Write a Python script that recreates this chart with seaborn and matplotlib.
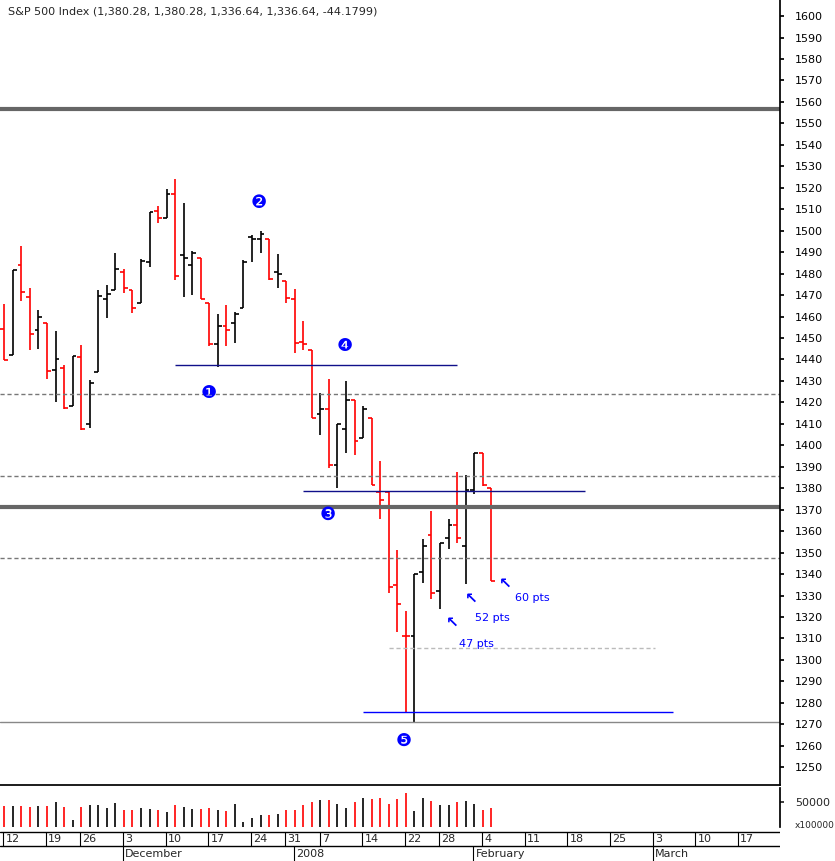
import matplotlib
matplotlib.use("Agg")
import matplotlib.pyplot as plt
import seaborn as sns
import numpy as np

sns.set_theme(style="white")
plt.rcParams["font.family"] = "DejaVu Sans"

opens  = [1454.4,1442.0,1484.2,1468.9,1453.5,1457.2,1435.3,1435.8,1418.4,1441.2,1410.1,1434.1,1468.1,1472.3,1480.8,1472.3,1466.1,1485.5,1509.3,1506.1,1517.3,1488.6,1483.8,1487.2,1466.1,1447.1,1455.4,1457.2,1464.2,1497.1,1496.0,1495.9,1480.8,1476.6,1468.4,1448.2,1444.6,1414.8,1416.7,1391.0,1407.4,1421.0,1403.6,1412.5,1378.4,1378.4,1334.9,1311.2,1311.2,1340.8,1358.2,1332.1,1356.9,1362.8,1353.0,1379.1,1396.5,1380.28]
highs  = [1465.8,1481.9,1492.8,1473.5,1463.0,1457.2,1453.2,1437.3,1441.5,1446.7,1430.3,1472.3,1474.6,1489.5,1482.1,1472.3,1487.0,1508.5,1511.4,1519.2,1524.0,1512.7,1490.5,1487.5,1466.1,1461.1,1465.3,1461.9,1486.3,1498.2,1499.8,1495.9,1489.1,1476.6,1472.6,1457.8,1444.6,1424.6,1431.1,1409.8,1429.9,1421.0,1418.5,1412.5,1392.6,1378.4,1351.2,1322.7,1339.8,1356.3,1369.3,1354.7,1365.6,1387.4,1386.1,1396.5,1396.5,1380.28]
lows   = [1439.7,1442.0,1467.3,1444.3,1444.8,1431.0,1420.2,1417.1,1418.4,1407.0,1408.1,1434.1,1459.4,1472.3,1471.0,1461.7,1466.1,1483.2,1503.7,1506.1,1476.9,1469.2,1469.9,1468.4,1446.2,1436.6,1446.3,1447.7,1464.2,1485.5,1489.4,1477.0,1473.1,1466.1,1443.1,1444.6,1412.5,1405.0,1389.2,1379.9,1396.6,1395.7,1403.6,1381.7,1365.5,1331.4,1313.1,1275.8,1271.2,1335.6,1328.2,1323.5,1351.5,1354.3,1335.2,1377.3,1381.0,1336.64]
closes = [1439.7,1481.9,1471.2,1451.8,1459.7,1434.4,1440.4,1417.5,1441.5,1407.8,1429.1,1469.8,1470.4,1482.1,1473.1,1464.0,1485.9,1508.5,1505.7,1517.0,1478.8,1487.5,1489.4,1468.4,1447.0,1455.8,1453.5,1461.1,1485.3,1496.0,1498.4,1477.3,1479.7,1468.7,1447.7,1447.0,1412.5,1417.0,1391.0,1409.8,1421.3,1401.9,1417.1,1381.7,1374.5,1333.8,1326.0,1311.2,1339.8,1353.0,1331.4,1354.7,1362.8,1356.9,1379.1,1396.5,1381.5,1336.64]
volumes = [43000,43000,43000,40000,43000,43000,51000,41000,15000,40000,45000,45000,38000,48000,35000,35000,39000,37000,35000,30000,45000,40000,36000,36000,39000,35000,33000,47000,11000,19000,25000,25000,27000,35000,35000,45000,50000,55000,55000,46000,39000,50000,58000,57000,58000,47000,57000,69000,33000,59000,53000,45000,45000,50000,53000,47000,35000,39000]

week_ticks = [0,5,9,14,19,24,29,33,37,42,47,51,56,61,66,71,76,81,86,91]
week_labels = ["12","19","26","3","10","17","24","31","7","14","22","28","4","11","18","25","3","10","17","2"]
month_ticks = [14,34,55,76]
month_labels = ["December","2008","February","March"]

W, H = 835, 861
fig = plt.figure(figsize=(W/100, H/100), dpi=100)
xl = (-0.5, 90.8)
ax = fig.add_axes([0, 1-785/H, 780/W, 785/H])
axv = fig.add_axes([0, 1-827/H, 780/W, 39/H])
axd = fig.add_axes([0, 0, 780/W, 30/H])

n = len(opens)
idx = np.arange(n)
cols = []
for i in range(n):
    prev = closes[i-1] if i > 0 else opens[i]
    cols.append("red" if closes[i] < prev else "black")

ax.set_xlim(*xl)
ax.set_ylim(1241.7, 1607.5)
ax.vlines(idx, lows, highs, colors=cols, lw=1.2)
ax.hlines(opens, idx-0.45, idx, colors=cols, lw=1.2)
ax.hlines(closes, idx, idx+0.45, colors=cols, lw=1.2)

ax.axhline(1556.5, color="#666666", lw=3)
ax.axhline(1371.2, color="#666666", lw=3)
for lvl in [1424, 1385.5, 1347.5]:
    ax.axhline(lvl, color="#777777", lw=1, ls=(0, (3, 2)))
ax.axhline(1271.0, color="#888888", lw=1)
ax.hlines(1305.5, 45.0, 76.2, color="#bbbbbb", lw=1, ls=(0, (3, 2)))
ax.hlines(1437.4, 20.0, 53.0, color="#10108a", lw=1)
ax.hlines(1378.7, 35.0, 68.0, color="#10108a", lw=1)
ax.hlines(1275.7, 42.0, 78.3, color="blue", lw=1)

for lab, xi, yv in [("❶", 23.9, 1424.5), ("❷", 29.8, 1513), ("❸", 37.9, 1367.5), ("❹", 39.8, 1446.3), ("❺", 46.8, 1262.5)]:
    ax.text(xi, yv, lab, color="blue", fontsize=13, ha="center", va="center")
for xi, yv, txt, tx, ty in [(52.4, 1317.5, "47 pts", 55.3, 1307.5), (54.7, 1328.7, "52 pts", 57.1, 1319.5), (58.6, 1335.5, "60 pts", 61.8, 1329)]:
    ax.text(xi, yv, "↖", color="blue", fontsize=11, ha="center", va="center", fontweight="bold")
    ax.text(tx, ty, txt, color="blue", fontsize=8, ha="center", va="center")

ax.set_xticks([])
ax.yaxis.tick_right()
ax.set_yticks(np.arange(1250, 1601, 10))
ax.tick_params(axis="y", length=3, labelsize=8, pad=8, colors="black", direction="out")
for s in ["top", "left"]:
    ax.spines[s].set_visible(False)
ax.spines["bottom"].set_color("black")
ax.spines["right"].set_color("black")
ax.text(8/780, 1-12/785, "S&P 500 Index (1,380.28, 1,380.28, 1,336.64, 1,336.64, -44.1799)",
        transform=ax.transAxes, fontsize=8, va="center", ha="left")

axv.set_xlim(*xl)
axv.set_ylim(0, 78000)
axv.vlines(idx, 0, volumes, colors=cols, lw=1.2)
axv.set_xticks([])
axv.yaxis.tick_right()
axv.set_yticks([50000])
axv.set_yticklabels(["50000"])
axv.tick_params(axis="y", length=3, labelsize=8, pad=8)
for s in ["top", "left", "bottom"]:
    axv.spines[s].set_visible(False)
axv.spines["right"].set_color("black")
fig.text(795/W, 1-826/H, "x100000", fontsize=6.5, va="center", ha="left")

axd.set_xlim(*xl)
axd.set_ylim(0, 30)
axd.axis("off")
axd.axhline(29.5, color="black", lw=1)
axd.axhline(15, color="black", lw=1)
for t, lab in zip(week_ticks, week_labels):
    axd.vlines(t - 0.1, 15, 29.5, color="black", lw=0.8)
    axd.text(t + 0.15, 22, lab, fontsize=8, va="center", ha="left", clip_on=True)
for t, lab in zip(month_ticks, month_labels):
    axd.vlines(t - 0.1, 0, 15, color="black", lw=0.8)
    axd.text(t + 0.15, 7, lab, fontsize=8, va="center", ha="left")

fig.savefig("out.png", dpi=100, facecolor="white")
